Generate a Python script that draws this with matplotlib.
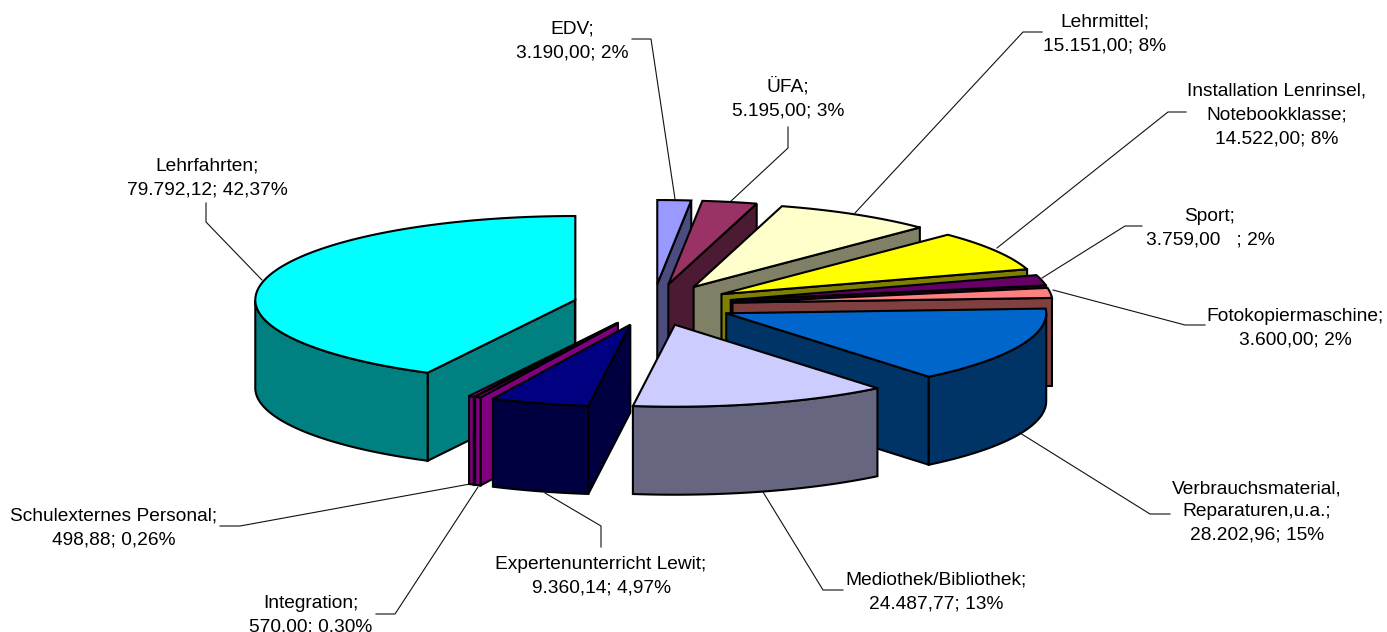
import numpy as np
import matplotlib
matplotlib.use("Agg")
import matplotlib.pyplot as plt
from matplotlib.patches import Polygon

plt.rcParams['font.family'] = ['Liberation Sans', 'DejaVu Sans']

# Slices, clockwise from 12 o'clock
names = ["EDV", "UFA", "Lehrmittel", "Installation", "Sport", "Fotokopiermaschine",
         "Verbrauchsmaterial", "Mediothek", "Experten", "Integration", "Schulextern", "Lehrfahrten"]
values = [3190.00, 5195.00, 15151.00, 14522.00, 3759.00, 3600.00,
          28202.96, 24487.77, 9360.14, 570.00, 498.88, 79792.12]
labels = ["EDV;\n3.190,00; 2%", "ÜFA;\n5.195,00; 3%", "Lehrmittel;\n15.151,00; 8%",
          "Installation Lenrinsel,\nNotebookklasse;\n14.522,00; 8%", "Sport;\n3.759,00   ; 2%",
          "Fotokopiermaschine;\n3.600,00; 2%", "Verbrauchsmaterial,\nReparaturen,u.a.;\n28.202,96; 15%",
          "Mediothek/Bibliothek;\n24.487,77; 13%", "Expertenunterricht Lewit;\n9.360,14; 4,97%",
          "Integration;\n570,00; 0,30%", "Schulexternes Personal;\n498,88; 0,26%",
          "Lehrfahrten;\n79.792,12; 42,37%"]
top_colors = ["#9999FF", "#993366", "#FFFFCC", "#FFFF00", "#660066", "#FF8080",
              "#0066CC", "#CCCCFF", "#000080", "#800080", "#FF00FF", "#00FFFF"]
side_colors = ["#4C4C80", "#4D1A33", "#808066", "#808000", "#330033", "#804040",
               "#003366", "#666680", "#000040", "#800080", "#800080", "#008080"]

# Text centres and leader lines, in pixels
label_xy = [(572, 41), (788, 98), (1105, 34), (1277, 115), (1210, 228), (1295, 328),
            (1257, 512), (936, 592), (601, 576), (311, 615), (114, 528), (207, 178)]
leaders = [[(632, 39), (651, 39), (675, 199)],
           [(788, 127), (788, 148), (730, 202)],
           [(1042, 32), (1023, 32), (855, 213)],
           [(1186, 112), (1168, 112), (997, 248)],
           [(1142, 226), (1125, 226), (1042, 278)],
           [(1205, 325), (1185, 325), (1053, 290)],
           [(1170, 514), (1150, 514), (1020, 433)],
           [(843, 590), (823, 590), (763, 492)],
           [(601, 547), (601, 526), (545, 493)],
           [(376, 614), (395, 614), (478, 487)],
           [(220, 526), (240, 526), (470, 484)],
           [(206, 203), (206, 222), (262, 280)]]

# Pie geometry
cx, cy = 653, 305
rx, ry_back, ry_front = 320, 84, 82
depth = 88
explode = 0.25


def rim(x0, y0, a):
    c = np.cos(a)
    return x0 + rx * np.sin(a), y0 - np.where(c > 0, ry_back, ry_front) * c


fracs = np.array(values) / sum(values)
edges = np.concatenate([[0], np.cumsum(fracs)]) * 2 * np.pi

fig = plt.figure(figsize=(13.87, 6.32), dpi=100)
ax = fig.add_axes([0, 0, 1, 1])
ax.set_xlim(0, 1387)
ax.set_ylim(632, 0)
ax.axis("off")

for pts in leaders:
    xs, ys = zip(*pts)
    ax.plot(xs, ys, color="#111111", lw=0.8, zorder=1)
for (x, y), lab in zip(label_xy, labels):
    ax.text(x, y, lab, ha="center", va="center", fontsize=13.8, linespacing=1.5, color="black")


def draw_slice(i, z):
    a0, a1 = edges[i], edges[i + 1]
    mid = (a0 + a1) / 2
    x0, y0 = rim(cx, cy, mid)
    x0 = cx + explode * (x0 - cx)
    y0 = cy + explode * (y0 - cy)
    kw = dict(edgecolor="black", lw=1.5, joinstyle="miter", zorder=z)

    # flat walls, only the ones facing the viewer
    for a, visible in ((a0, np.sin(a0) < 0), (a1, np.sin(a1) > 0)):
        if visible:
            x1, y1 = rim(x0, y0, a)
            ax.add_patch(Polygon([(x0, y0), (x1, y1), (x1, y1 + depth), (x0, y0 + depth)],
                                 facecolor=side_colors[i], **kw))
    # outer wall, front half only
    lo, hi = max(a0, np.pi / 2), min(a1, 3 * np.pi / 2)
    if hi > lo:
        t = np.linspace(lo, hi, 80)
        xs, ys = rim(x0, y0, t)
        ax.add_patch(Polygon(np.r_[np.c_[xs, ys], np.c_[xs, ys + depth][::-1]],
                             facecolor=side_colors[i], **kw))
    # top face
    t = np.linspace(a0, a1, 120)
    xs, ys = rim(x0, y0, t)
    ax.add_patch(Polygon(np.r_[[(x0, y0)], np.c_[xs, ys]], facecolor=top_colors[i], **kw))


# back to front: right side going down, then left side going down, Mediothek last
order = [0, 1, 2, 3, 4, 5, 6, 11, 10, 9, 8, 7]
for z, i in enumerate(order):
    draw_slice(i, 2 + z)

fig.savefig("out.png", dpi=100, facecolor="white")
